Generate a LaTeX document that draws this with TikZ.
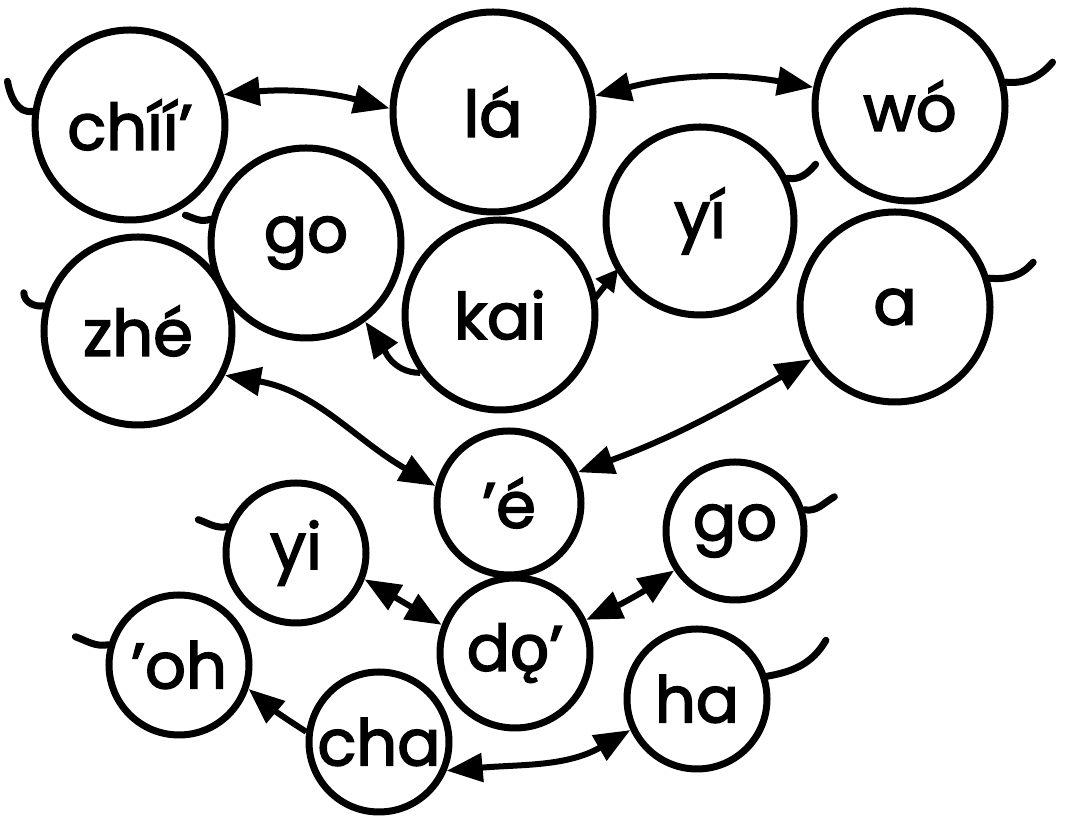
\documentclass[tikz,border=0pt]{standalone}
\usepackage{fontspec}
\newfontfamily\wfont{Poppins}[FakeBold=2.5]
\newfontfamily\ogfont{Lato}[FakeBold=2.5,Scale=1.08]
\usetikzlibrary{arrows.meta}
\begin{document}
\begin{tikzpicture}[x=1pt,y=1pt,
  word/.style={circle,draw=black,line width=7pt,inner sep=0pt,
    font=\wfont\fontsize{64}{70}\selectfont},
  big/.style={word,minimum size=#1},
  link/.style={line width=6pt,-{Triangle[length=36pt,width=28pt]}},
  dlink/.style={line width=6pt,{Triangle[length=36pt,width=28pt]}-{Triangle[length=36pt,width=28pt]}},
  smalllink/.style={line width=6pt,-{Triangle[length=22pt,width=22pt]},
    shorten <=-3pt,shorten >=-3pt},
  tail/.style={line width=7pt,line cap=round}]
\useasboundingbox (0,0) rectangle (1072,818);
\fill[white] (0,0) rectangle (1072,818);
% nodes
\node[big=190pt] (chii) at (130,693) {chíí’};
\node[big=200pt] (la)   at (493,706) {lá};
\node[big=190pt] (wo)   at (910,712) {wó};
\node[big=190pt] (goA)  at (306,575) {go};
\node[big=188pt] (zhe)  at (138,487) {zhé};
\node[big=190pt] (kai)  at (500,503) {kai};
\node[big=188pt] (yiA)  at (700,597) {yí};
\node[big=190pt] (a)    at (895,511) {a};
\node[big=144pt] (e)    at (509,315) {’é};
\node[big=140pt] (yiB)  at (296,265) {yi};
\node[big=138pt] (goB)  at (735,287) {go};
\node[big=150pt] (do)   at (515,165) {d{\ogfont ǫ}’};
\node[big=140pt] (oh)   at (179,153) {’oh};
\node[big=140pt] (cha)  at (379,76)  {cha};
\node[big=140pt] (ha)   at (697,119) {ha};
% connectors
\draw[dlink] (chii.18) to[bend left=10] (la.178);
\draw[dlink] (la.9) to[bend left=12] (wo.169);
\draw[link] (kai.216) to[out=180,in=-55] (goA.307);
\draw[smalllink] (kai.11) -- (yiA.211);
\draw[dlink] (zhe.333) to[out=-10,in=150] (e.167);
\draw[dlink] (e.24) to[out=20,in=-150] (a.212);
\draw[dlink] (yiB.-21) -- (do.159);
\draw[dlink] (goB.213) to[bend left=5] (do.25);
\draw[link] (cha.172) to[bend left=4] (oh.-19);
\draw[dlink] (cha.-23) to[out=5,in=-150] (ha.205);
% tails
\draw[tail] (chii.172) to[out=190,in=-80] ++(-25,30);
\draw[tail] (zhe.165) to[out=190,in=-90] ++(-20,13);
\draw[tail] (goA.166) to[out=200,in=-20] ++(-25,4);
\draw[tail] (wo.14) to[out=-5,in=-130] ++(47,20);
\draw[tail] (yiA.26) to[out=-10,in=-130] ++(28,14);
\draw[tail] (a.17) to[out=-5,in=-130] ++(44,16);
\draw[tail] (goB.17) to[out=-10,in=-150] ++(30,13);
\draw[tail] (ha.18) to[out=10,in=-120] ++(59,36);
\draw[tail] (yiB.159) to[out=190,in=-20] ++(-29,7);
\draw[tail] (oh.164) to[out=190,in=-20] ++(-33,8);
\end{tikzpicture}
\end{document}
